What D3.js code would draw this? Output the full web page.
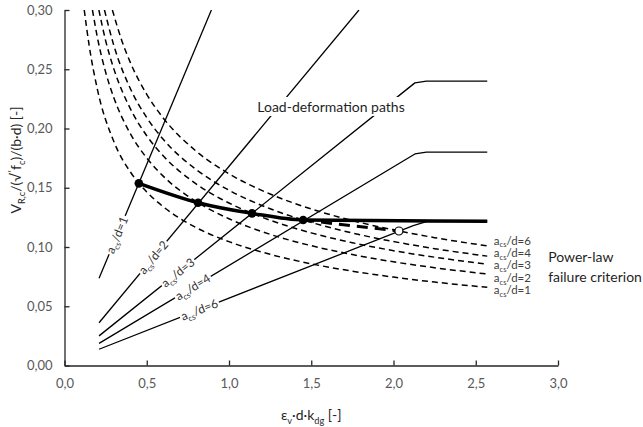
<!DOCTYPE html>
<html>
<head>
<meta charset="utf-8">
<script src="https://cdn.jsdelivr.net/npm/d3@7"></script>
<style>
  html, body { margin: 0; padding: 0; background: #fff; }
  svg { display: block; font-family: Lato, "Open Sans", "DejaVu Sans", sans-serif; }
</style>
</head>
<body>
<svg id="chart" width="643" height="427"></svg>
<script>
// ---- axis ticks ----
const xTickValues = [0, 0.5, 1.0, 1.5, 2.0, 2.5, 3.0];
const yTickValues = [0, 0.05, 0.10, 0.15, 0.20, 0.25, 0.30];

// ---- load-deformation paths (x = eps_v*d*k_dg, y = V/(sqrt fc)/(b d)) ----
const pathAd1 = [[0.21, 0.0736], [0.893, 0.30]];
const pathAd2 = [[0.21, 0.0361], [1.79, 0.30]];
const pathAd3 = [[0.21, 0.0250], [2.13, 0.2385], [2.20, 0.2400], [2.57, 0.2400]];
const pathAd4 = [[0.21, 0.0187], [2.13, 0.1785], [2.20, 0.1800], [2.57, 0.1800]];
const pathAd6 = [[0.21, 0.0137], [2.12, 0.1180], [2.20, 0.1215], [2.57, 0.1218]];
const pathNames = ["1", "2", "3", "4", "6"];
// position (x) along each path where its a_cs/d label sits
const pathLabelX = [0.32, 0.54, 0.69, 0.78, 0.82];

// ---- power-law failure criterion, one curve per a_cs/d ----
const critAd1 = [[0.120, 0.300], [0.15, 0.270], [0.20, 0.233], [0.30, 0.189], [0.40, 0.1634], [0.452, 0.1537], [0.50, 0.1464], [0.60, 0.134], [0.80, 0.1164], [1.00, 0.1045], [1.25, 0.0938], [1.50, 0.0858], [1.75, 0.0796], [2.00, 0.0746], [2.25, 0.0704], [2.57, 0.0660]];
const critAd2 = [[0.170, 0.300], [0.20, 0.2768], [0.25, 0.2476], [0.30, 0.226], [0.40, 0.1957], [0.50, 0.1751], [0.60, 0.1598], [0.812, 0.1374], [1.00, 0.1238], [1.25, 0.1107], [1.50, 0.1011], [1.75, 0.0936], [2.00, 0.0875], [2.25, 0.0825], [2.57, 0.0772]];
const critAd3 = [[0.209, 0.300], [0.25, 0.2742], [0.30, 0.2503], [0.40, 0.2168], [0.50, 0.1939], [0.60, 0.177], [0.80, 0.1533], [1.00, 0.1371], [1.14, 0.1284], [1.25, 0.1226], [1.50, 0.1119], [1.75, 0.1036], [2.00, 0.0969], [2.25, 0.0914], [2.57, 0.0855]];
const critAd4 = [[0.243, 0.300], [0.30, 0.270], [0.40, 0.2338], [0.50, 0.2092], [0.60, 0.1909], [0.80, 0.1654], [1.00, 0.1479], [1.25, 0.1323], [1.451, 0.1228], [1.75, 0.1118], [2.00, 0.1046], [2.25, 0.0986], [2.57, 0.0923]];
const critAd6 = [[0.291, 0.300], [0.35, 0.2735], [0.40, 0.2558], [0.50, 0.2288], [0.60, 0.2089], [0.80, 0.1809], [1.00, 0.1618], [1.25, 0.1447], [1.50, 0.1321], [1.75, 0.1223], [2.033, 0.1135], [2.25, 0.1079], [2.57, 0.1009]];
const critNames = ["6", "4", "3", "2", "1"];   // top to bottom at the right end

// ---- failure points and resulting envelope ----
const failurePoints = [[0.452, 0.1537], [0.812, 0.1374], [1.14, 0.1284], [1.451, 0.1228]];
const failureEnvelope = [[0.452, 0.1537], [0.812, 0.1374], [1.14, 0.1284], [1.451, 0.1228], [2.57, 0.1218]];
const failureBranch = [[1.451, 0.1228], [1.65, 0.1195], [1.85, 0.1163], [2.033, 0.1135]];
const openPoint = [2.033, 0.1135];

// ---------------------------------------------------------------
const svg = d3.select("#chart");
const x = d3.scaleLinear().domain([0, 3]).range([64.5, 558]);
const y = d3.scaleLinear().domain([0, 0.3]).range([365.5, 10]);

const INK = "#000";
const AXIS = "#262626";
const LABEL = "#595959";

// rich text helper: parts = [{t, sub, sup}]
function rich(textSel, parts, size) {
  let shift = 0;
  parts.forEach(p => {
    const target = p.sub ? size * 0.25 : p.sup ? -size * 0.35 : 0;
    const ts = textSel.append("tspan").text(p.t).attr("dy", (target - shift).toFixed(2));
    if (p.sub || p.sup) ts.attr("font-size", (size * 0.66).toFixed(2));
    shift = target;
  });
}
const adParts = n => [{ t: "a" }, { t: "cs", sub: true }, { t: "/d=" + n }];

// clip to plotting area
svg.append("clipPath").attr("id", "plotClip").append("rect")
  .attr("x", x(0)).attr("y", y(0.3)).attr("width", x(3) - x(0)).attr("height", y(0) - y(0.3));

const plot = svg.append("g").attr("clip-path", "url(#plotClip)");
const lineLin = d3.line().x(d => x(d[0])).y(d => y(d[1]));
const lineSmooth = d3.line().x(d => x(d[0])).y(d => y(d[1])).curve(d3.curveMonotoneX);

// failure criterion curves (dashed)
[critAd6, critAd4, critAd3, critAd2, critAd1].forEach(c => {
  plot.append("path").attr("d", lineSmooth(c))
    .attr("fill", "none").attr("stroke", INK).attr("stroke-width", 1.5)
    .attr("stroke-dasharray", "6,4");
});

// load-deformation paths
const paths = [pathAd1, pathAd2, pathAd3, pathAd4, pathAd6];
paths.forEach(p => {
  plot.append("path").attr("d", lineLin(p))
    .attr("fill", "none").attr("stroke", INK).attr("stroke-width", 1.3)
    .attr("stroke-linejoin", "round");
});

// envelope of failure points
plot.append("path").attr("d", lineSmooth(failureBranch))
  .attr("fill", "none").attr("stroke", INK).attr("stroke-width", 3)
  .attr("stroke-dasharray", "11,7");
plot.append("path").attr("d", lineSmooth(failureEnvelope))
  .attr("fill", "none").attr("stroke", INK).attr("stroke-width", 3.5);

plot.selectAll("circle.fp").data(failurePoints).join("circle")
  .attr("class", "fp").attr("cx", d => x(d[0])).attr("cy", d => y(d[1]))
  .attr("r", 4.3).attr("fill", INK);
plot.append("circle").attr("cx", x(openPoint[0])).attr("cy", y(openPoint[1]))
  .attr("r", 4).attr("fill", "#fff").attr("stroke", INK).attr("stroke-width", 1.2);

// labels along the load-deformation paths, on white boxes
function valueOn(p, xv) {
  for (let i = 0; i < p.length - 1; i++) {
    const [x0, y0] = p[i], [x1, y1] = p[i + 1];
    if (xv >= x0 && xv <= x1) return y0 + (y1 - y0) * (xv - x0) / (x1 - x0);
  }
  return p[p.length - 1][1];
}
paths.forEach((p, i) => {
  const xv = pathLabelX[i];
  const yv = valueOn(p, xv);
  const ang = Math.atan2(y(p[0][1]) - y(p[1][1]), x(p[1][0]) - x(p[0][0])) * 180 / Math.PI;
  const g = svg.append("g").attr("transform", `translate(${x(xv)},${y(yv)}) rotate(${-ang})`);
  const t = g.append("text").attr("text-anchor", "middle").attr("y", 4.2)
    .attr("font-size", 12).attr("fill", "#333");
  rich(t, adParts(pathNames[i]), 12);
  const b = t.node().getBBox();
  g.insert("rect", "text").attr("x", b.x - 1.5).attr("y", b.y + 1).attr("width", b.width + 3)
    .attr("height", b.height - 2).attr("fill", "#fff");
});

// annotation: load-deformation paths
{
  const g = svg.append("g");
  const t = g.append("text").attr("x", x(1.62)).attr("y", y(0.218) + 4.8)
    .attr("text-anchor", "middle").attr("font-size", 14).attr("fill", "#1f1f1f")
    .text("Load-deformation paths");
  const b = t.node().getBBox();
  g.insert("rect", "text").attr("x", b.x - 3).attr("y", b.y - 1).attr("width", b.width + 6)
    .attr("height", b.height + 2).attr("fill", "#fff");
}

// right-hand curve labels
critNames.forEach((n, i) => {
  const t = svg.append("text").attr("x", x(2.61)).attr("y", 244.5 + i * 12.4)
    .attr("font-size", 11.5).attr("fill", "#404040");
  rich(t, adParts(n), 11.5);
});
svg.append("text").attr("x", x(2.94)).attr("y", 262).attr("font-size", 14)
  .attr("fill", "#1f1f1f").text("Power-law");
svg.append("text").attr("x", x(2.94)).attr("y", 282).attr("font-size", 14)
  .attr("fill", "#1f1f1f").text("failure criterion");

// ---- axes ----
const comma = f => d => d3.format(f)(d).replace(".", ",");
const gy = svg.append("g").attr("transform", `translate(${x(0)},0)`)
  .call(d3.axisLeft(y).tickValues(yTickValues).tickSize(-5).tickSizeOuter(0)
    .tickPadding(12).tickFormat(comma(".2f")));
const gx = svg.append("g").attr("transform", `translate(0,${y(0)})`)
  .call(d3.axisBottom(x).tickValues(xTickValues).tickSize(-5).tickSizeOuter(0)
    .tickPadding(13).tickFormat(comma(".1f")));
[gy, gx].forEach(g => {
  g.select(".domain").attr("stroke", AXIS).attr("stroke-width", 1.3);
  g.selectAll(".tick line").attr("stroke", AXIS).attr("stroke-width", 1.3);
  g.selectAll(".tick text").attr("fill", LABEL).attr("font-size", 13)
    .attr("font-family", "Lato, 'Open Sans', sans-serif");
});

// axis titles
{
  const t = svg.append("text").attr("x", (x(0) + x(3)) / 2).attr("y", 420)
    .attr("text-anchor", "middle").attr("font-size", 14).attr("fill", "#262626");
  rich(t, [{ t: "ε" }, { t: "v", sub: true }, { t: "·d·k" }, { t: "dg", sub: true }, { t: " [-]" }], 14);
}
{
  const t = svg.append("text").attr("transform", "translate(21,160) rotate(-90)")
    .attr("text-anchor", "middle").attr("font-size", 14).attr("fill", "#262626");
  rich(t, [{ t: "V" }, { t: "R,c", sub: true }, { t: "/(√" }, { t: "′", sup: true }, { t: "f" }, { t: "c", sub: true }, { t: ")/(b·d) [-]" }], 14);
}
</script>
</body>
</html>
